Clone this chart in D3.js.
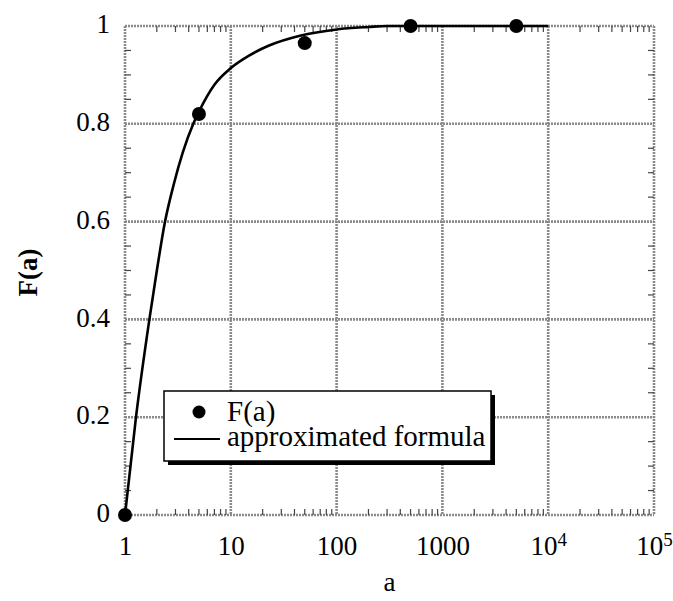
<!DOCTYPE html>
<html lang="en">
<head>
<meta charset="UTF-8">
<title>F(a)</title>
<script src="https://d3js.org/d3.v7.min.js"></script>
<style>
    body { margin: 0; background: #fff; }
    svg text { font-family: "Liberation Serif", "DejaVu Serif", serif; fill: #000; }
    .grid line { stroke: #8a8a8a; stroke-width: 2.6; stroke-dasharray: 2 1; }
    .tick-minor { stroke: #444; stroke-width: 1.2; }
</style>
</head>
<body>
<script>
    // measured points
    var pointA = [1, 5, 50, 500, 5000];
    var pointF = [0, 0.82, 0.965, 1.0, 1.0];

    // approximated formula curve
    var curveA = [1, 1.27, 1.7, 2.0, 2.39, 2.92, 3.5, 4.42, 5, 7, 10, 15, 23, 45, 100, 200, 300, 1000, 10000];
    var curveF = [0, 0.2, 0.4, 0.5, 0.6, 0.68, 0.74, 0.8, 0.825, 0.88, 0.914, 0.94, 0.96, 0.98, 0.993, 0.998, 1, 1, 1];

    var xTicks = [1, 10, 100, 1000, 10000, 100000];
    var xTickLabels = ["1", "10", "100", "1000", "10^4", "10^5"];
    var yTicks = [0, 0.2, 0.4, 0.6, 0.8, 1];
    var yTickLabels = ["0", "0.2", "0.4", "0.6", "0.8", "1"];

    var FONT = "'Liberation Serif', 'DejaVu Serif', serif";

    var W = 673, H = 601;
    var margin = { top: 26, right: 19, bottom: 86, left: 125 },
        width = W - margin.left - margin.right,
        height = H - margin.top - margin.bottom;

    var svg = d3.select("body").append("svg")
        .attr("width", W)
        .attr("height", H)
        .attr("font-family", FONT);

    var g = svg.append("g")
        .attr("transform", "translate(" + margin.left + "," + margin.top + ")");

    var x = d3.scaleLog().domain([1, 1e5]).range([0, width]);
    var y = d3.scaleLinear().domain([0, 1]).range([height, 0]);

    // grid + frame (dotted gray)
    var grid = g.append("g").attr("class", "grid");
    grid.selectAll(".gx").data(xTicks).enter().append("line")
        .attr("x1", d => x(d)).attr("x2", d => x(d))
        .attr("y1", 0).attr("y2", height);
    grid.selectAll(".gy").data(yTicks).enter().append("line")
        .attr("x1", 0).attr("x2", width)
        .attr("y1", d => y(d)).attr("y2", d => y(d));

    // minor ticks, inward on all four sides
    var minorX = [];
    for (var dec = 1; dec < 1e5; dec *= 10) {
        for (var k = 2; k <= 9; k++) minorX.push(dec * k);
    }
    var minorY = d3.range(0.05, 1, 0.1).concat(d3.range(0.1, 1, 0.2)).filter(v => !yTicks.some(t => Math.abs(t - v) < 1e-6));
    var minorLen = 6;

    g.selectAll(".mxb").data(minorX).enter().append("line").attr("class", "tick-minor")
        .attr("x1", d => x(d)).attr("x2", d => x(d))
        .attr("y1", height).attr("y2", height - minorLen);
    g.selectAll(".mxt").data(minorX).enter().append("line").attr("class", "tick-minor")
        .attr("x1", d => x(d)).attr("x2", d => x(d))
        .attr("y1", 0).attr("y2", minorLen);
    g.selectAll(".myl").data(minorY).enter().append("line").attr("class", "tick-minor")
        .attr("x1", 0).attr("x2", minorLen)
        .attr("y1", d => y(d)).attr("y2", d => y(d));
    g.selectAll(".myr").data(minorY).enter().append("line").attr("class", "tick-minor")
        .attr("x1", width).attr("x2", width - minorLen)
        .attr("y1", d => y(d)).attr("y2", d => y(d));

    // tick labels through d3 axes (no domain/tick lines)
    var xAxis = g.append("g")
        .attr("transform", "translate(0," + height + ")")
        .call(d3.axisBottom(x).tickValues(xTicks).tickSize(0).tickPadding(21)
            .tickFormat((d, i) => xTickLabels[i]));
    xAxis.attr("font-family", FONT);
    xAxis.select(".domain").remove();
    xAxis.selectAll("text")
        .style("font-size", "27px")
        .each(function (d, i) {
            var lab = xTickLabels[i];
            if (lab.indexOf("^") > 0) {
                var parts = lab.split("^");
                var t = d3.select(this).text(null);
                t.append("tspan").text(parts[0]);
                t.append("tspan").attr("dy", "-0.5em").style("font-size", "19px").text(parts[1]);
            }
        });

    var yAxis = g.append("g")
        .call(d3.axisLeft(y).tickValues(yTicks).tickSize(0).tickPadding(15)
            .tickFormat((d, i) => yTickLabels[i]));
    yAxis.attr("font-family", FONT);
    yAxis.select(".domain").remove();
    yAxis.selectAll("text").style("font-size", "27px").attr("dy", "0.25em");

    // axis titles
    svg.append("text")
        .attr("x", margin.left + width / 2)
        .attr("y", 591)
        .attr("text-anchor", "middle")
        .style("font-size", "27px")
        .text("a");

    svg.append("text")
        .attr("transform", "translate(37," + (margin.top + height / 2 + 2) + ") rotate(-90)")
        .attr("text-anchor", "middle")
        .style("font-size", "27px")
        .style("font-weight", "bold")
        .text("F(a)");

    // curve
    var curveData = curveA.map((a, i) => ({ a: a, f: curveF[i] }));
    var line = d3.line()
        .x(d => x(d.a))
        .y(d => y(d.f))
        .curve(d3.curveMonotoneX);

    g.append("path")
        .datum(curveData)
        .attr("fill", "none")
        .attr("stroke", "#000")
        .attr("stroke-width", 2.6)
        .attr("d", line);

    // points
    var pts = pointA.map((a, i) => ({ a: a, f: pointF[i] }));
    g.selectAll(".pt").data(pts).enter().append("circle")
        .attr("cx", d => x(d.a))
        .attr("cy", d => y(d.f))
        .attr("r", 7)
        .attr("fill", "#000");

    // legend with drop shadow
    var lg = svg.append("g").attr("transform", "translate(164,391)");
    var lw = 327, lh = 70;
    lg.append("rect").attr("x", 4).attr("y", 4).attr("width", lw).attr("height", lh).attr("fill", "#000");
    lg.append("rect").attr("width", lw).attr("height", lh)
        .attr("fill", "#fff").attr("stroke", "#000").attr("stroke-width", 1.5);
    lg.append("circle").attr("cx", 35).attr("cy", 21).attr("r", 6.5).attr("fill", "#000");
    lg.append("text").attr("x", 63).attr("y", 30).style("font-size", "29px").text("F(a)");
    lg.append("line").attr("x1", 10).attr("x2", 56).attr("y1", 48).attr("y2", 48)
        .attr("stroke", "#000").attr("stroke-width", 2);
    lg.append("text").attr("x", 63).attr("y", 55).style("font-size", "29px").text("approximated formula");
</script>
</body>
</html>
